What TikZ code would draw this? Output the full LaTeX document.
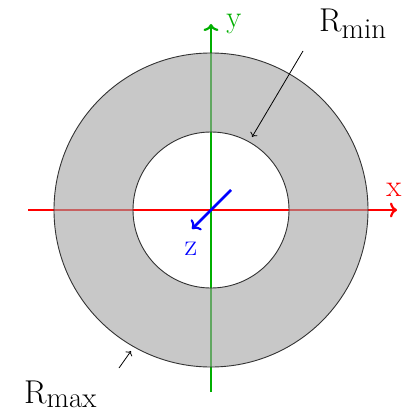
\documentclass[tikz,border=0pt]{standalone}
\usetikzlibrary{arrows.meta}
\definecolor{axgreen}{RGB}{0,175,0}
\definecolor{ringgray}{RGB}{163,163,163}
\begin{document}
\begin{tikzpicture}[x=1pt,y=-1pt,
  axis/.style={line width=2.8pt,-{To[length=7pt,width=15pt,line width=2.2pt]}},
  lab/.style={font=\fontsize{31}{36}\selectfont,anchor=base,inner sep=0pt},
  rlab/.style={anchor=base west,inner sep=0pt},
  pointer/.style={line width=0.8pt,-{To[length=4pt,width=8pt]}}]
\useasboundingbox (0,0) rectangle (411,412);
\coordinate (O) at (211,210);
\coordinate (xs) at (28,210);
\coordinate (xe) at (397,210);
\coordinate (ys) at (211,392);
\coordinate (ye) at (211,24);
\coordinate (zs) at (231,190);
\coordinate (ze) at (192,229);
% axes
\draw[axis,red] (xs) -- (xe);
\draw[axis,axgreen] (ys) -- (ye);
% ring
\fill[ringgray,fill opacity=0.6,even odd rule] (O) circle[radius=157pt] (O) circle[radius=78pt];
\draw[black!80,line width=0.9pt] (O) circle[radius=157pt];
\draw[black!80,line width=0.9pt] (O) circle[radius=78pt];
\draw[axis,blue] (zs) -- (ze);
% labels
\node[lab,red] (xl) at (394,196) {x};
\node[lab,axgreen] (yl) at (234,28) {y};
\node[lab,blue] (zl) at (191,255) {z};
\node[rlab] (rmin) at (319,32) {\fontsize{33}{40}\selectfont R\raisebox{-6pt}{\fontsize{29}{35}\selectfont min}};
\node[rlab] (rmax) at (24,403) {\fontsize{33}{40}\selectfont R\raisebox{-4.5pt}{\fontsize{29}{35}\selectfont max}};
\coordinate (pa) at (303,51);
\coordinate (pb) at (252,137);
\coordinate (qa) at (119,368);
\coordinate (qb) at (131,351);
\draw[pointer] (pa) -- (pb);
\draw[pointer] (qa) -- (qb);
\end{tikzpicture}
\end{document}
